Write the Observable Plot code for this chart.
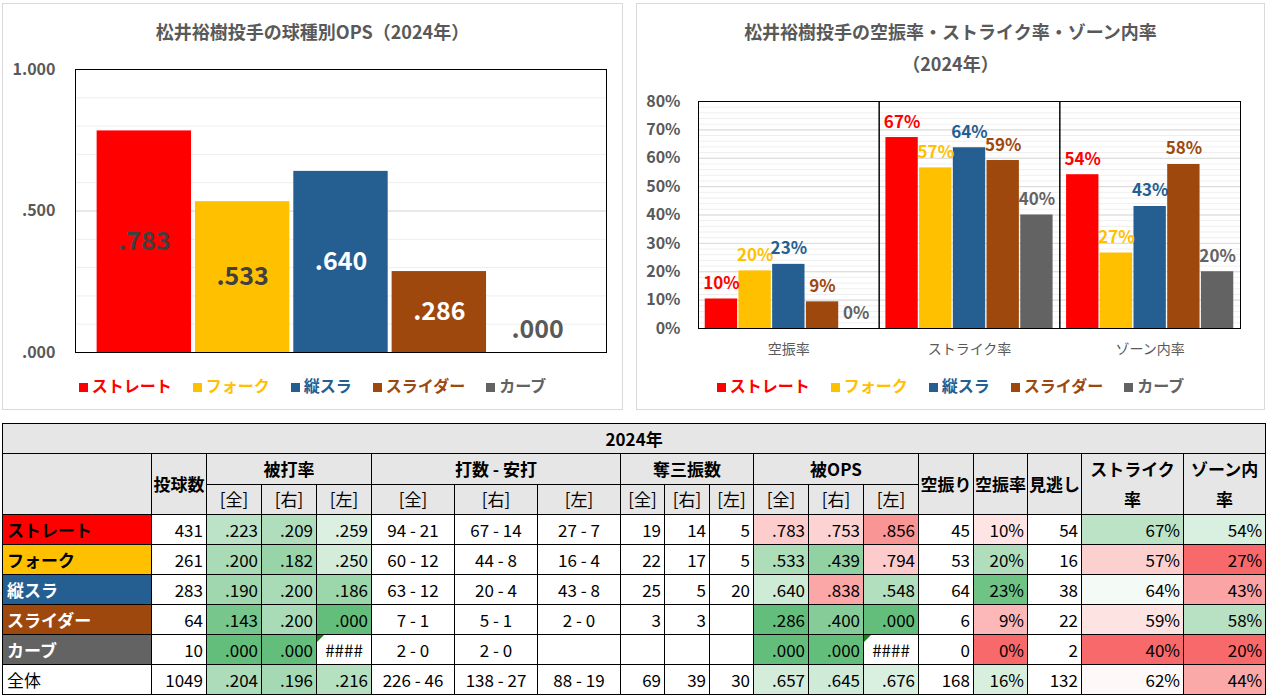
<!DOCTYPE html>
<html><head><meta charset="utf-8">
<script src="https://cdn.jsdelivr.net/npm/d3@7"></script>
<script src="https://cdn.jsdelivr.net/npm/@observablehq/plot@0.6"></script>
<style>
body{margin:0;background:#fff;font-family:"Noto Sans CJK JP","Noto Sans",sans-serif;}
#root{position:relative;width:1267px;height:697px;overflow:hidden;background:#fff}
.panel{position:absolute;box-sizing:border-box;border:1px solid #d9d9d9;background:#fff}
.title{position:absolute;left:0;width:100%;text-align:center;font-weight:bold;font-size:18px;color:#595959;line-height:32px;white-space:nowrap}
.svgwrap{position:absolute;left:0}
.legend{position:absolute;left:0;width:100%;display:flex;justify-content:center;gap:21px;font-weight:bold;font-size:16px;line-height:20px;white-space:nowrap}
.legend .sw{display:inline-block;width:9px;height:9px;margin-right:4px;vertical-align:0px}
table{position:absolute;left:2px;top:423px;width:1263px;border-collapse:collapse;table-layout:fixed;font-size:17px;color:#000}
tr{height:30px}
td,th{border:1px solid #000;padding:0;overflow:hidden;white-space:nowrap;line-height:28px}
th{background:#e7e6e6;font-weight:bold;text-align:center}
th.sub{font-weight:normal}
th.wrap{white-space:normal;line-height:30px}
td.num{text-align:right;padding-right:3px}
td.ctr{text-align:center}
td.name{text-align:left;padding-left:4px;font-weight:bold}
td.total{text-align:left;padding-left:4px;font-weight:normal}
td.err{position:relative;text-align:center}
td.err::before{content:"";position:absolute;left:0;top:0;width:0;height:0;border-top:7px solid #1a7f1a;border-right:7px solid transparent}
</style></head>
<body><div id="root"></div>
<script>
// ---------- data ----------
const pitchTypes = ["ストレート","フォーク","縦スラ","スライダー","カーブ"];
const totalLabel = "全体";
const yearLabel = "2024年";
const splitLabels = ["[全]","[右]","[左]"];
const rateGroups = ["空振率","ストライク率","ゾーン内率"];
const leftTitle = "松井裕樹投手の球種別OPS（2024年）";
const rightTitle1 = "松井裕樹投手の空振率・ストライク率・ゾーン内率";
const rightTitle2 = "（2024年）";

const pitches   = [431,261,283,64,10,1049];
const avgAll    = [0.223,0.200,0.190,0.143,0.000,0.204];
const avgR      = [0.209,0.182,0.200,0.200,0.000,0.196];
const avgL      = [0.259,0.250,0.186,0.000,null,0.216];
const abAll     = [94,60,63,7,2,226];
const hitsAll   = [21,12,12,1,0,46];
const abR       = [67,44,20,5,2,138];
const hitsR     = [14,8,4,1,0,27];
const abL       = [27,16,43,2,null,88];
const hitsL     = [7,4,8,0,null,19];
const soAll     = [19,22,25,3,null,69];
const soR       = [14,17,5,3,null,39];
const soL       = [5,5,20,null,null,30];
const opsAll    = [0.783,0.533,0.640,0.286,0.000,0.657];
const opsR      = [0.753,0.439,0.838,0.400,0.000,0.645];
const opsL      = [0.856,0.794,0.548,0.000,null,0.676];
const whiffs    = [45,53,64,6,0,168];
const whiffRate = [0.104,0.203,0.226,0.094,0.000,0.160];
const called    = [54,16,38,22,2,132];
const strikeRate= [0.673,0.566,0.637,0.592,0.400,0.620];
const zoneRate  = [0.542,0.266,0.430,0.578,0.200,0.440];

// ---------- styles ----------
const FONT = '"Noto Sans CJK JP","Noto Sans",sans-serif';
const seriesColors = ["#FF0000","#FFC000","#255E91","#9E480E","#636363"];
const nameTextColors = ["#000","#000","#fff","#fff","#fff"];
const opsLabelColors = ["#404040","#404040","#ffffff","#ffffff","#595959"];
const axisGray = "#595959";

const fmtOps = v => d3.format(".3f")(v).replace(/^0/, "");
const pct = d3.format(".0%");

const root = document.getElementById("root");

function legendHTML() {
  return pitchTypes.map((t,i) =>
    `<span style="color:${seriesColors[i]}"><span class="sw" style="background:${seriesColors[i]}"></span>${t}</span>`).join("");
}

// ---------- left chart ----------
const lp = document.createElement("div");
lp.className = "panel";
Object.assign(lp.style, {left:"2px", top:"3px", width:"621px", height:"407px"});
root.appendChild(lp);
lp.innerHTML = `<div class="title" style="top:11px">${leftTitle}</div>`;

const opsData = pitchTypes.map((t,i) => ({type:t, ops:opsAll[i]}));
const leftPlot = Plot.plot({
  width: 619, height: 308,
  marginLeft: 72, marginRight: 16, marginTop: 15, marginBottom: 10,
  style: {fontFamily: FONT, background: "transparent", overflow: "visible"},
  x: {domain: pitchTypes, paddingInner: 0.04, paddingOuter: 0.22, round: false, axis: null},
  y: {domain: [0, 1]},
  color: {domain: pitchTypes, range: seriesColors},
  marks: [
    Plot.ruleY(d3.range(1, 10).map(i => i / 10), {stroke: "#eeeeee"}),
    Plot.ruleY([0.5], {stroke: "#d9d9d9"}),
    Plot.barY(opsData, {x: "type", y: "ops", fill: "type"}),
    ...opsData.map((d, i) => Plot.text([d], {
      x: "type", y: v => v.ops / 2, text: v => fmtOps(v.ops),
      fill: opsLabelColors[i], fontSize: 25, fontWeight: "bold",
      dy: d.ops === 0 ? -23 : 0
    })),
    Plot.frame({stroke: "#000"}),
    Plot.axisY({ticks: [0, 0.5, 1], tickFormat: fmtOps, tickSize: 0, tickPadding: 20,
      fontSize: 16, fontWeight: "bold", fill: axisGray, label: null})
  ]
});
const lw = document.createElement("div");
lw.className = "svgwrap"; lw.style.top = "50px";
lw.appendChild(leftPlot);
lp.appendChild(lw);
const ll = document.createElement("div");
ll.className = "legend"; ll.style.top = "371px";
ll.innerHTML = legendHTML();
lp.appendChild(ll);

// ---------- right chart ----------
const rp = document.createElement("div");
rp.className = "panel";
Object.assign(rp.style, {left:"636px", top:"3px", width:"629px", height:"407px"});
root.appendChild(rp);
rp.innerHTML = `<div class="title" style="top:11px">${rightTitle1}<br>${rightTitle2}</div>`;

const rateSeries = [whiffRate, strikeRate, zoneRate];
const rateRows = rateGroups.flatMap((g, gi) =>
  pitchTypes.map((t, i) => ({group: g, type: t, value: rateSeries[gi][i]})));
const rightPlot = Plot.plot({
  width: 627, height: 280,
  marginLeft: 61, marginRight: 24, marginTop: 17, marginBottom: 36,
  style: {fontFamily: FONT, background: "transparent", overflow: "visible"},
  fx: {domain: rateGroups, padding: 0, round: false, label: null},
  x: {domain: pitchTypes, paddingInner: 0.04, paddingOuter: 0.2, round: false, axis: null},
  y: {domain: [0, 0.8]},
  color: {domain: pitchTypes, range: seriesColors},
  marks: [
    Plot.ruleY(d3.range(1, 40).map(i => i * 0.02), {stroke: "#efefef"}),
    Plot.ruleY(d3.range(1, 8).map(i => i / 10), {stroke: "#d9d9d9"}),
    Plot.barY(rateRows, {fx: "group", x: "type", y: "value", fill: "type"}),
    Plot.text(rateRows, {fx: "group", x: "type", y: "value", text: d => pct(d.value),
      fill: "type", fontSize: 17, fontWeight: "bold", lineAnchor: "bottom", dy: -10}),
    Plot.frame({stroke: "#000"}),
    Plot.axisY({ticks: d3.range(0, 9).map(i => i / 10), tickFormat: pct, tickSize: 0, tickPadding: 18,
      fontSize: 16, fontWeight: "bold", fill: axisGray, label: null}),
    Plot.axisFx({anchor: "bottom", tickSize: 0, tickPadding: 16, fontSize: 14, fill: axisGray, label: null})
  ]
});
const rw = document.createElement("div");
rw.className = "svgwrap"; rw.style.top = "80px";
rw.appendChild(rightPlot);
rp.appendChild(rw);
const rl = document.createElement("div");
rl.className = "legend"; rl.style.top = "371px";
rl.innerHTML = legendHTML();
rp.appendChild(rl);

// ---------- table ----------
const green = d3.interpolateRgb("#ffffff", "#63BE7B");
const red = d3.interpolateRgb("#ffffff", "#F8696B");
const tone = t => t >= 0 ? green(Math.min(1, t)) : red(Math.min(1, -t));
const avgScale = d3.scaleLinear().domain([0.12, 0.30]).range([1, 0]).clamp(true);
const opsScale = d3.scaleLinear().domain([0.29, 0.44, 0.70, 0.72, 0.75, 0.80, 0.87]).range([1, 0.7, 0.2, 0, -0.3, -0.35, -0.8]).clamp(true);
const whiffScale = d3.scaleLinear().domain([0, 0.09, 0.11, 0.20, 0.23]).range([-1, -0.6, 0, 0.45, 1]).clamp(true);
const strikeScale = d3.scaleLinear().domain([0.40, 0.565, 0.63, 0.70]).range([-1, -0.32, 0, 0.7]).clamp(true);
const zoneScale = d3.scaleLinear().domain([0.30, 0.45, 0.50, 0.62]).range([-1, -0.55, 0, 0.7]).clamp(true);

const colWidths = [149,55,55,55,55,83,83,83,44,45,44,55,55,55,55,54,54,102,82];
let html = "<colgroup>" + colWidths.map(w => `<col style="width:${w}px">`).join("") + "</colgroup>";
html += `<tr><th colspan="19">${yearLabel}</th></tr>`;
html += `<tr><th rowspan="2"></th><th rowspan="2">投球数</th><th colspan="3">被打率</th><th colspan="3">打数 - 安打</th><th colspan="3">奪三振数</th><th colspan="3">被OPS</th><th rowspan="2">空振り</th><th rowspan="2">空振率</th><th rowspan="2">見逃し</th><th rowspan="2" class="wrap">ストライク率</th><th rowspan="2" class="wrap">ゾーン内率</th></tr>`;
html += "<tr>" + [0,1,2,3].map(() => splitLabels.map(s => `<th class="sub">${s}</th>`).join("")).join("") + "</tr>";

const numCell = v => `<td class="num">${v == null ? "" : v}</td>`;
const rateCell = (v, f, sc) => v == null
  ? `<td class="err">####</td>`
  : `<td class="num" style="background:${tone(sc(v))}">${f(v)}</td>`;
const abCell = (a, h) => `<td class="ctr">${a == null ? "" : a + " - " + h}</td>`;

const rowNames = [...pitchTypes, totalLabel];
rowNames.forEach((nm, i) => {
  let r = "<tr>";
  if (i < pitchTypes.length)
    r += `<td class="name" style="background:${seriesColors[i]};color:${nameTextColors[i]}">${nm}</td>`;
  else
    r += `<td class="total">${nm}</td>`;
  r += numCell(pitches[i]);
  r += rateCell(avgAll[i], fmtOps, avgScale) + rateCell(avgR[i], fmtOps, avgScale) + rateCell(avgL[i], fmtOps, avgScale);
  r += abCell(abAll[i], hitsAll[i]) + abCell(abR[i], hitsR[i]) + abCell(abL[i], hitsL[i]);
  r += numCell(soAll[i]) + numCell(soR[i]) + numCell(soL[i]);
  r += rateCell(opsAll[i], fmtOps, opsScale) + rateCell(opsR[i], fmtOps, opsScale) + rateCell(opsL[i], fmtOps, opsScale);
  r += numCell(whiffs[i]);
  r += rateCell(whiffRate[i], pct, whiffScale);
  r += numCell(called[i]);
  r += rateCell(strikeRate[i], pct, strikeScale);
  r += rateCell(zoneRate[i], pct, zoneScale);
  r += "</tr>";
  html += r;
});
const table = document.createElement("table");
table.innerHTML = html;
root.appendChild(table);
</script>
</body></html>
